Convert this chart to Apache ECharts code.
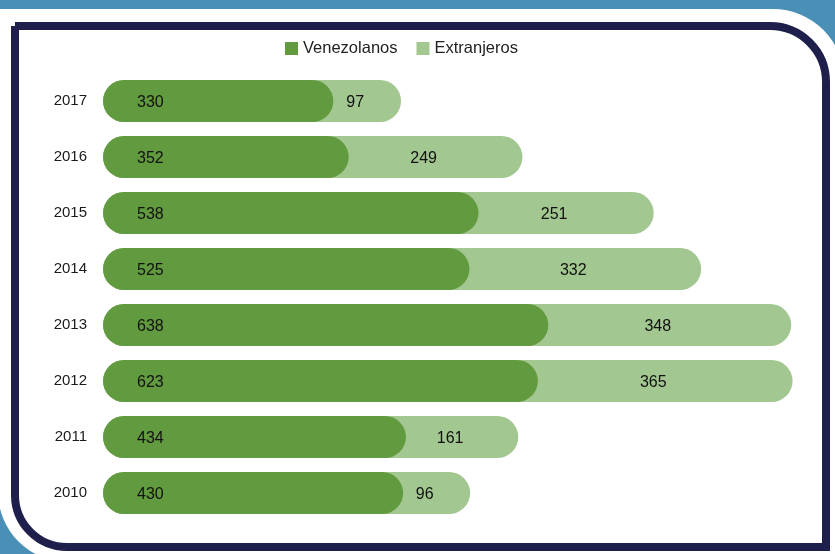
<!DOCTYPE html>
<html><head><meta charset="utf-8">
<script src="https://cdn.jsdelivr.net/npm/echarts@6/dist/echarts.min.js"></script>
<style>html,body{margin:0;padding:0;background:#4a90b6;}#c{width:835px;height:554px;}</style>
</head><body><div id="c"></div>
<script>
const years = ['2010','2011','2012','2013','2014','2015','2016','2017'];
const venezolanos = [430, 434, 623, 638, 525, 538, 352, 330];
const extranjeros = [96, 161, 365, 348, 332, 251, 249, 97];
const legendNames = ['Venezolanos', 'Extranjeros'];

const totals = venezolanos.map((v, i) => v + extranjeros[i]);
const FONT = '"Liberation Sans", Arial, sans-serif';
const chart = echarts.init(document.getElementById('c'), null, {renderer: 'canvas'});
chart.setOption({
  backgroundColor: '#4a90b6',
  animation: false,
  graphic: [
    {type: 'rect', z: -10, shape: {x: -2, y: 9, width: 846, height: 553, r: [0, 71, 0, 70]}, style: {fill: '#ffffff'}},
    {type: 'rect', z: -9, shape: {x: 15, y: 26, width: 811, height: 521, r: [0, 56, 0, 52]}, style: {fill: '#ffffff', stroke: '#1f1f4b', lineWidth: 8}}
  ],
  legend: {
    data: legendNames,
    top: 35,
    left: 280,
    icon: 'rect',
    itemWidth: 13,
    itemHeight: 13,
    itemGap: 19,
    textStyle: {fontFamily: FONT, fontSize: 16.5, color: '#222'}
  },
  grid: {left: 103, right: 34, top: 73, bottom: 33, containLabel: false},
  xAxis: {type: 'value', min: 0, max: 1000, show: false},
  yAxis: {
    type: 'category', data: years,
    axisLine: {show: false}, axisTick: {show: false},
    axisLabel: {fontFamily: FONT, fontSize: 15, color: '#1a1a1a', margin: 16}
  },
  series: [
    {
      name: 'Extranjeros', type: 'bar', data: totals, barWidth: 42, barGap: '-100%', z: 2,
      itemStyle: {color: '#a3c790', borderRadius: 21}
    },
    {
      name: 'Venezolanos', type: 'bar', data: venezolanos, barWidth: 42, barGap: '-100%', z: 3,
      itemStyle: {color: '#629a3f', borderRadius: 21},
      label: {show: true, position: 'insideLeft', distance: 34, offset: [0, 2], fontFamily: FONT, fontSize: 16, color: '#111'}
    },
    {
      name: '_base', type: 'bar', stack: 'lab', data: venezolanos, barWidth: 42, barGap: '-100%', z: 4, silent: true,
      itemStyle: {color: 'rgba(0,0,0,0)'}
    },
    {
      name: '_lab', type: 'bar', stack: 'lab', data: extranjeros, barWidth: 42, barGap: '-100%', z: 4, silent: true,
      itemStyle: {color: 'rgba(0,0,0,0)'},
      label: {show: true, position: 'inside', offset: [-12, 2], fontFamily: FONT, fontSize: 16, color: '#111'}
    }
  ]
});
</script></body></html>
